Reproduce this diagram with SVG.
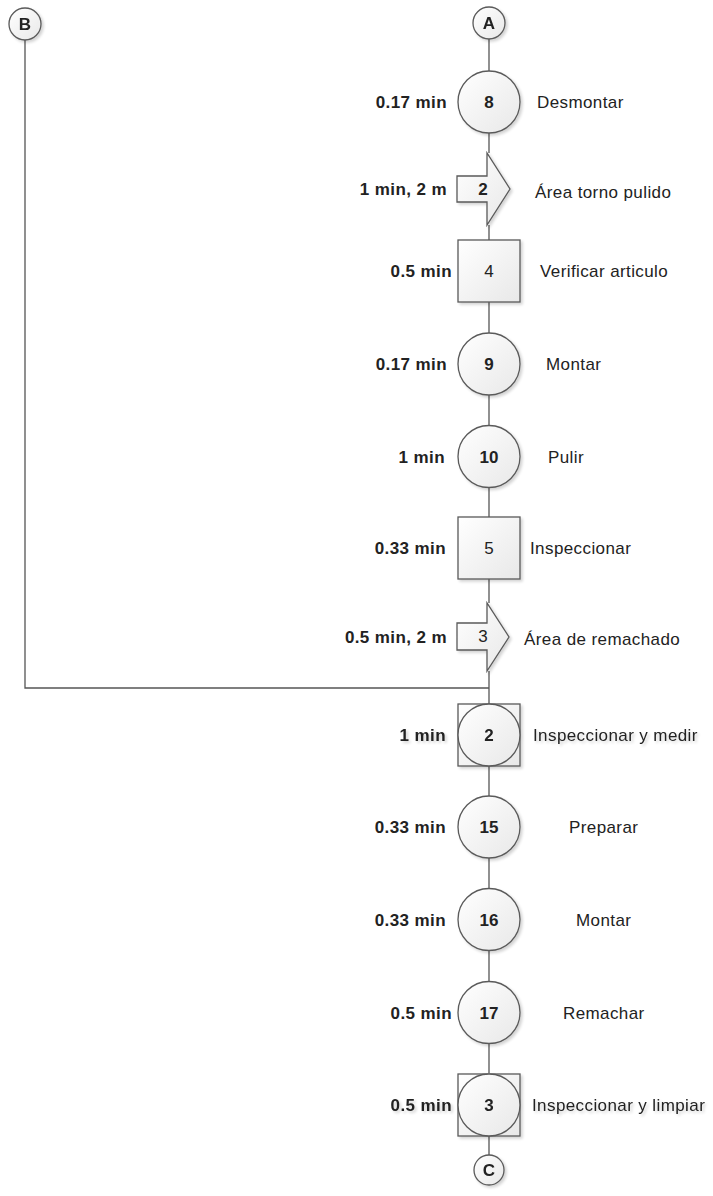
<svg xmlns="http://www.w3.org/2000/svg" width="713" height="1196" viewBox="0 0 713 1196">
  <defs>
    <linearGradient id="fillGrad" x1="0" y1="0" x2="1" y2="1">
      <stop offset="0" stop-color="#ffffff"/>
      <stop offset="1" stop-color="#e8e8e8"/>
    </linearGradient>
    <filter id="shadow" x="-20%" y="-20%" width="150%" height="150%">
      <feGaussianBlur in="SourceAlpha" stdDeviation="1.5"/>
      <feOffset dx="1.5" dy="1.5" result="b"/>
      <feComponentTransfer><feFuncA type="linear" slope="0.18"/></feComponentTransfer>
      <feMerge><feMergeNode/><feMergeNode in="SourceGraphic"/></feMerge>
    </filter>
  </defs>
  <style>
    .shape { fill: url(#fillGrad); stroke: #5a5a5a; stroke-width: 1.3; }
    .conn { fill: none; stroke: #555555; stroke-width: 1.3; }
    .num { font-family: "Liberation Sans", Arial, sans-serif; font-size: 17px; font-weight: bold; fill: #222; text-anchor: middle; }
    .numr { font-family: "Liberation Sans", Arial, sans-serif; font-size: 17px; fill: #222; text-anchor: middle; }
    .time { font-family: "Liberation Sans", Arial, sans-serif; font-size: 17px; font-weight: bold; fill: #222; text-anchor: end; letter-spacing: 0.4px; }
    .desc { font-family: "Liberation Sans", Arial, sans-serif; font-size: 17px; fill: #222; letter-spacing: 0.4px; }
  </style>
  <rect width="713" height="1196" fill="#ffffff"/>

  <!-- connectors -->
  <g id="connectors">
    <line class="conn" x1="489" y1="39" x2="489" y2="71"/>
    <line class="conn" x1="489" y1="133" x2="489" y2="153"/>
    <line class="conn" x1="489" y1="225" x2="489" y2="240"/>
    <line class="conn" x1="489" y1="302" x2="489" y2="333"/>
    <line class="conn" x1="489" y1="395" x2="489" y2="425"/>
    <line class="conn" x1="489" y1="488" x2="489" y2="517"/>
    <line class="conn" x1="489" y1="579" x2="489" y2="603"/>
    <line class="conn" x1="489" y1="671" x2="489" y2="704"/>
    <polyline class="conn" points="25,40 25,688 489,688"/>
    <line class="conn" x1="489" y1="766" x2="489" y2="796"/>
    <line class="conn" x1="489" y1="858" x2="489" y2="888"/>
    <line class="conn" x1="489" y1="951" x2="489" y2="982"/>
    <line class="conn" x1="489" y1="1043" x2="489" y2="1073"/>
    <line class="conn" x1="489" y1="1136" x2="489" y2="1155"/>
  </g>

  <!-- off-page references -->
  <g id="refB" filter="url(#shadow)">
    <circle class="shape" cx="25" cy="24" r="16"/>
    <text class="num" x="25" y="30">B</text>
  </g>
  <g id="refA" filter="url(#shadow)">
    <circle class="shape" cx="489" cy="23" r="16"/>
    <text class="num" x="489" y="29">A</text>
  </g>
  <g id="refC" filter="url(#shadow)">
    <circle class="shape" cx="489" cy="1170" r="15"/>
    <text class="num" x="489" y="1176">C</text>
  </g>

  <!-- operation 8 -->
  <g id="op8">
    <circle class="shape" cx="489" cy="102" r="31" filter="url(#shadow)"/>
    <text class="num" x="489" y="108">8</text>
    <text class="time" x="447" y="108">0.17 min</text>
    <text class="desc" x="537" y="108">Desmontar</text>
  </g>

  <!-- transport 2 -->
  <g id="tr2">
    <polygon class="shape" points="457,176 487,176 487,153 510,189 487,225 487,202 457,202" filter="url(#shadow)"/>
    <text class="num" x="483" y="195">2</text>
    <text class="time" x="447" y="195">1 min, 2 m</text>
    <text class="desc" x="535" y="197.5">Área torno pulido</text>
  </g>

  <!-- inspection 4 -->
  <g id="insp4">
    <rect class="shape" x="458" y="240" width="62" height="62" filter="url(#shadow)"/>
    <text class="numr" x="489" y="277">4</text>
    <text class="time" x="452" y="277">0.5 min</text>
    <text class="desc" x="540" y="277">Verificar articulo</text>
  </g>

  <!-- operation 9 -->
  <g id="op9">
    <circle class="shape" cx="489" cy="364" r="31" filter="url(#shadow)"/>
    <text class="num" x="489" y="370">9</text>
    <text class="time" x="447" y="370">0.17 min</text>
    <text class="desc" x="546" y="370">Montar</text>
  </g>

  <!-- operation 10 -->
  <g id="op10">
    <circle class="shape" cx="489" cy="456.5" r="31" filter="url(#shadow)"/>
    <text class="num" x="489" y="462.5">10</text>
    <text class="time" x="445" y="462.5">1 min</text>
    <text class="desc" x="548" y="462.5">Pulir</text>
  </g>

  <!-- inspection 5 -->
  <g id="insp5">
    <rect class="shape" x="458" y="517" width="62" height="62" filter="url(#shadow)"/>
    <text class="numr" x="489" y="554">5</text>
    <text class="time" x="446" y="554">0.33 min</text>
    <text class="desc" x="530" y="554">Inspeccionar</text>
  </g>

  <!-- transport 3 -->
  <g id="tr3">
    <polygon class="shape" points="457,623 487,623 487,603 509,637 487,671 487,650 457,650" filter="url(#shadow)"/>
    <text class="numr" x="483" y="641.5">3</text>
    <text class="time" x="447" y="643">0.5 min, 2 m</text>
    <text class="desc" x="524" y="644.5">Área de remachado</text>
  </g>

  <!-- combined operation/inspection 2 -->
  <g id="comb2" filter="url(#shadow)">
    <rect class="shape" x="458" y="704" width="62" height="62"/>
    <circle class="shape" cx="489" cy="735" r="31"/>
    <text class="num" x="489" y="741">2</text>
    <text class="time" x="446" y="741">1 min</text>
    <text class="desc" x="533" y="741">Inspeccionar y medir</text>
  </g>

  <!-- operation 15 -->
  <g id="op15">
    <circle class="shape" cx="489" cy="827" r="31" filter="url(#shadow)"/>
    <text class="num" x="489" y="833">15</text>
    <text class="time" x="446" y="833">0.33 min</text>
    <text class="desc" x="569" y="833">Preparar</text>
  </g>

  <!-- operation 16 -->
  <g id="op16">
    <circle class="shape" cx="489" cy="919.5" r="31" filter="url(#shadow)"/>
    <text class="num" x="489" y="925.5">16</text>
    <text class="time" x="446" y="925.5">0.33 min</text>
    <text class="desc" x="576" y="925.5">Montar</text>
  </g>

  <!-- operation 17 -->
  <g id="op17">
    <circle class="shape" cx="489" cy="1012.5" r="31" filter="url(#shadow)"/>
    <text class="num" x="489" y="1018.5">17</text>
    <text class="time" x="452" y="1018.5">0.5 min</text>
    <text class="desc" x="563" y="1018.5">Remachar</text>
  </g>

  <!-- combined operation/inspection 3 -->
  <g id="comb3" filter="url(#shadow)">
    <rect class="shape" x="458" y="1074" width="62" height="62"/>
    <circle class="shape" cx="489" cy="1105" r="31"/>
    <text class="num" x="489" y="1111">3</text>
    <text class="time" x="452" y="1111">0.5 min</text>
    <text class="desc" x="532" y="1111">Inspeccionar y limpiar</text>
  </g>
</svg>
